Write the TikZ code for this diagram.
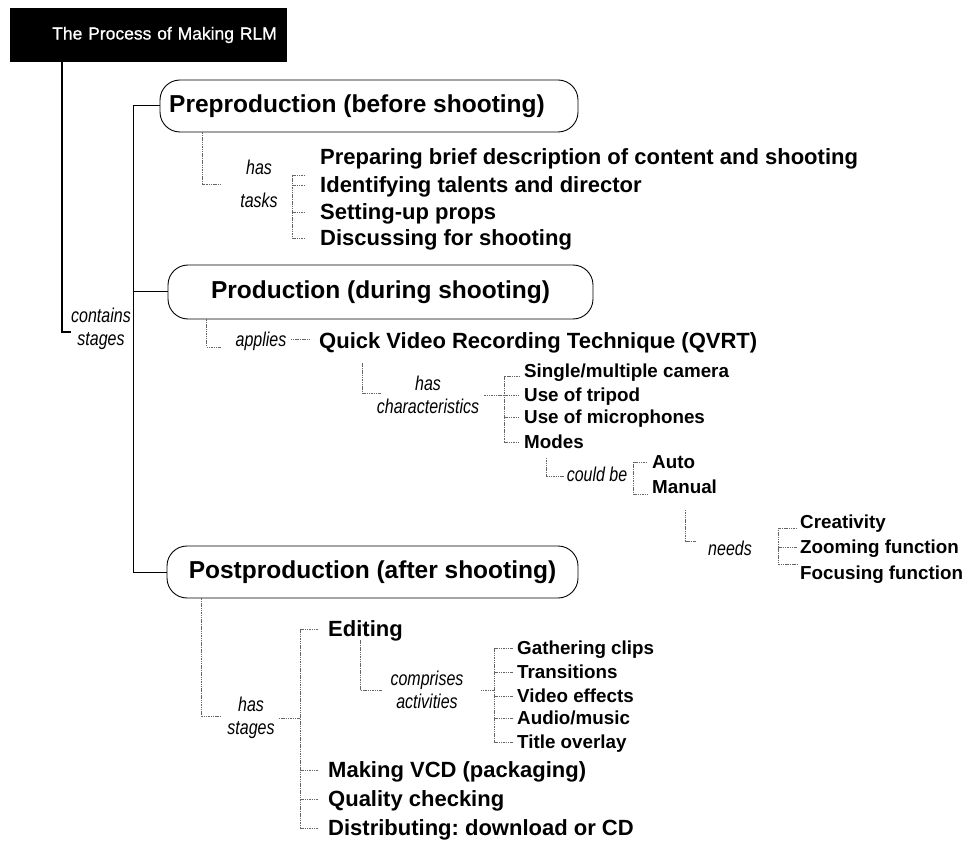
\documentclass[tikz,border=0pt]{standalone}
\usepackage{fontspec}
\setmainfont{Liberation Sans}
\newfontfamily\relfont{Liberation Sans}[FakeStretch=0.8]
\newfontfamily\headfont{Liberation Sans}[FakeBold=0.8]
\usetikzlibrary{calc}
\newcommand\fsz[1]{\fontsize{#1}{#1}\selectfont}
\frenchspacing
\begin{document}
\begin{tikzpicture}[x=1pt,y=-1pt,
  spine/.style={draw=black, line width=1pt},
  titleline/.style={draw=black, line width=1.8pt},
  link/.style={draw=black!60, line width=0.6pt, dash pattern=on 1.5pt off 0.8pt},
  titlebox/.style={anchor=west, fill=black, text=white, minimum height=54pt,
    inner xsep=0pt, inner ysep=0pt, text width=277pt, align=left,
    font=\headfont\fsz{17.5}},
  stage/.style={draw=black, line width=0.9pt, rounded corners=20pt,
    font=\fsz{24.5}\bfseries, inner sep=0pt},
  big/.style={anchor=west, inner sep=0pt, text height=15.8pt, text depth=0pt,
    font=\fsz{22}\bfseries},
  small/.style={anchor=west, inner sep=0pt, text height=13.5pt, text depth=0pt,
    font=\fsz{18.8}\bfseries},
  rel/.style={font=\relfont\itshape\fontsize{20}{23}\selectfont, align=center, inner sep=0pt}]

\useasboundingbox (0,0) rectangle (972,842);

% heading and the three stages
\node[titlebox] (title) at (10,35) {\hspace*{42pt}The Process of Making RLM};
\node[stage, minimum width=418pt, minimum height=52pt] (pre)  at (369,106)   {Preproduction (before shooting)\hspace*{24pt}};
\node[stage, minimum width=425pt, minimum height=54pt] (prod) at (380.5,292) {Production (during shooting)};
\node[stage, minimum width=411pt, minimum height=52pt] (post) at (372.5,572) {Postproduction (after shooting)};

\coordinate (sp) at (133,0);
\draw[spine] (pre.west) -| (sp |- post.west) -- (post.west);
\draw[spine] (prod.west) -- (prod.west -| sp);

\node[rel] (cs) at (101,329) {contains\\stages};
\draw[titleline] ([xshift=52pt]title.south west) |- ([yshift=-3pt]cs.west);

% preproduction tasks
\node[rel] (ht) at (259,184) {has\\[10pt]tasks};
\draw[link] ([xshift=43pt]pre.south west) |- ([xshift=-20pt]ht.west);
\node[big] (t1) at (320,157) {Preparing brief description of content and shooting};
\node[big] (t2) at (320,185) {Identifying talents and director};
\node[big] (t3) at (320,212) {Setting-up props};
\node[big] (t4) at (320,238) {Discussing for shooting};
\coordinate (tb) at (292,175);
\draw[link] ([xshift=-15pt]t1.west |- tb) -- (tb) -- (tb |- t4.west);
\foreach \n in {t2,t3,t4} \draw[link] (tb |- \n.west) -- ([xshift=-15pt]\n.west);

% production technique
\node[rel] (ap) at (261,341) {applies};
\draw[link] ([xshift=39pt]prod.south west) |- ([xshift=-15pt,yshift=-6pt]ap.west);
\node[big] (qv) at (319,341) {Quick Video Recording Technique (QVRT)};
\draw[link] ([xshift=4pt,yshift=2pt]ap.east) -- ([xshift=-10pt,yshift=2pt]qv.west);

\node[rel] (hc) at (428,395) {has\\characteristics};
\draw[link] ([xshift=43pt,yshift=-14pt]qv.south west) |- ([xshift=4pt,yshift=2pt]hc.west);
\node[small] (c1) at (524,371) {Single/multiple camera};
\node[small] (c2) at (524,395) {Use of tripod};
\node[small] (c3) at (524,417) {Use of microphones};
\node[small] (c4) at (524,442) {Modes};
\coordinate (cb) at (504,376);
\draw[link] ([xshift=5pt]hc.east |- c2.west) -- (cb |- c2.west);
\draw[link] ([xshift=-4pt]c1.west |- cb) -- (cb) -- (cb |- c4.west);
\foreach \n in {c2,c3,c4} \draw[link] (cb |- \n.west) -- ([xshift=-4pt]\n.west);

\node[rel] (cbe) at (597,474) {could be};
\draw[link] ([xshift=22pt,yshift=-9pt]c4.south west) |- ([xshift=-3pt,yshift=-2pt]cbe.west);
\node[small] (a1) at (652,462) {Auto};
\node[small] (a2) at (652,487) {Manual};
\coordinate (ab) at (633,462);
\coordinate (abB) at (633,494);
\draw[link] ([xshift=-5pt]a1.west) -- (ab) -- (abB) -- ([xshift=-5pt]a1.west |- abB);

\node[rel] (nd) at (730,548) {needs};
\draw[link] ([xshift=33pt,yshift=-16pt]a2.south west) |- ([xshift=-12pt,yshift=7pt]nd.west);
\node[small] (n1) at (800,522) {Creativity};
\node[small] (n2) at (800,547) {Zooming function};
\node[small] (n3) at (800,573) {Focusing function};
\coordinate (nb) at (778,528);
\coordinate (nbB) at (778,564);
\draw[link] ([xshift=-3pt]n1.west |- nb) -- (nb) -- (nbB) -- ([xshift=-3pt]n1.west |- nbB);
\draw[link] (nb |- n2.west) -- ([xshift=-3pt]n2.west);

% postproduction stages
\node[rel] (hs) at (251,718) {has\\stages};
\draw[link] ([xshift=35pt]post.south west) |- ([xshift=-7pt,yshift=2pt]hs.west);
\node[big] (e1) at (328,629) {Editing};
\node[big] (e2) at (328,770) {Making VCD (packaging)};
\node[big] (e3) at (328,799) {Quality checking};
\node[big] (e4) at (328,828) {Distributing: download or CD};
\coordinate (eb) at (300,629);
\draw[link] ([xshift=4pt]hs.east) -- (eb |- hs.east);
\draw[link] (eb) -- (eb |- e4.west);
\foreach \n in {e1,e2,e3,e4} \draw[link] (eb |- \n.west) -- ([xshift=-10pt]\n.west);

\node[rel] (ca) at (427,690) {comprises\\activities};
\draw[link] ([xshift=32pt,yshift=-3pt]e1.south west) |- ([xshift=-8pt]ca.west);
\node[small] (g1) at (517,648) {Gathering clips};
\node[small] (g2) at (517,672) {Transitions};
\node[small] (g3) at (517,696) {Video effects};
\node[small] (g4) at (517,718) {Audio/music};
\node[small] (g5) at (517,742) {Title overlay};
\coordinate (gb) at (494,648);
\draw[link] ([xshift=17pt]ca.east) -- (gb |- ca.east);
\draw[link] (gb) -- (gb |- g5.west);
\foreach \n in {g1,g2,g3,g4,g5} \draw[link] (gb |- \n.west) -- ([xshift=-4pt]\n.west);
\end{tikzpicture}
\end{document}
